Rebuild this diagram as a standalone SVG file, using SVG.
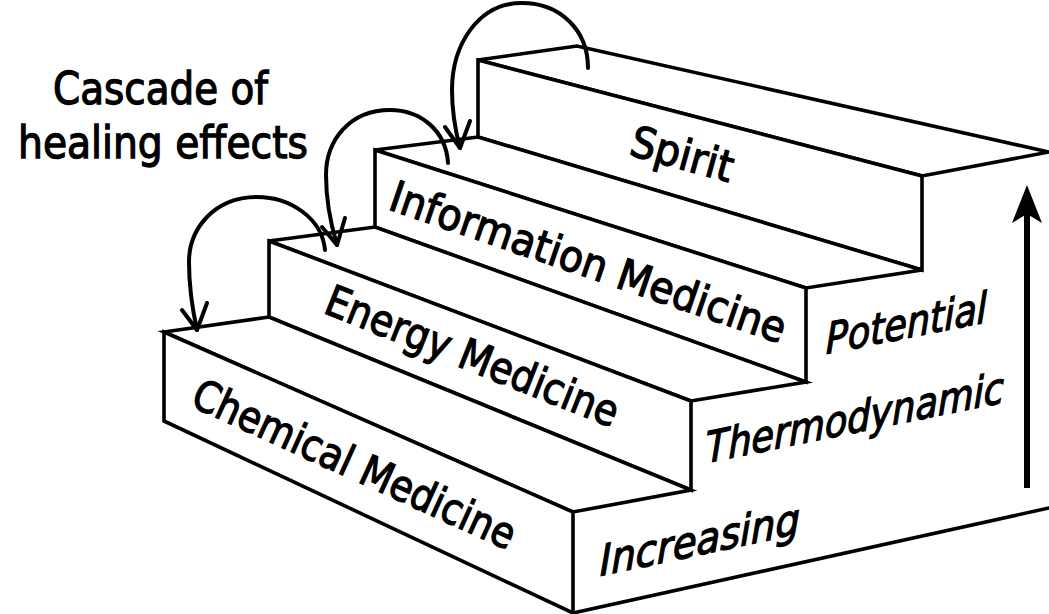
<svg xmlns="http://www.w3.org/2000/svg" width="1049" height="614" viewBox="0 0 1049 614">
  <style>
    .edge { fill: #fff; stroke: #000; stroke-width: 3.6; stroke-linejoin: miter; }
    .line { fill: none; stroke: #000; stroke-width: 3.6; stroke-linecap: round; }
    .arc { fill: none; stroke: #000; stroke-width: 4; stroke-linecap: round; }
    .head { fill: none; stroke: #000; stroke-width: 4; stroke-linecap: round; stroke-linejoin: round; }
    .lbl { font-family: "DejaVu Sans", "Liberation Sans", sans-serif; font-size: 43px; fill: #000; stroke: #000; stroke-width: 1.3; }
    .side { font-style: italic; }
    .mid { text-anchor: middle; }
  </style>
  <rect width="1049" height="614" fill="#fff"/>

  <g id="side-wall">
    <path class="line" d="M573,613 L1049,508"/>
  </g>

  <g id="step-spirit">
    <polygon class="edge" points="478,60 577,46 1049,152 922,176"/>
    <polygon class="edge" points="478,60 922,176 922,270 478,137"/>
    <text class="lbl mid" transform="translate(682,155) rotate(15.5)" x="0" y="14" textLength="105" lengthAdjust="spacingAndGlyphs">Spirit</text>
  </g>

  <g id="step-information">
    <polygon class="edge" points="375,150 478,137 922,270 806,288"/>
    <polygon class="edge" points="375,150 806,288 806,382 375,227"/>
    <text class="lbl mid" transform="translate(588,263) rotate(18.9)" x="0" y="14" textLength="416" lengthAdjust="spacingAndGlyphs">Information Medicine</text>
  </g>

  <g id="step-energy">
    <polygon class="edge" points="269,241 375,227 806,382 691,401"/>
    <polygon class="edge" points="269,241 691,401 691,490 269,317"/>
    <text class="lbl mid" transform="translate(472,357) rotate(21.7)" x="0" y="14" textLength="312" lengthAdjust="spacingAndGlyphs">Energy Medicine</text>
  </g>

  <g id="step-chemical">
    <polygon class="edge" points="164,332 269,317 691,490 573,512"/>
    <polygon class="edge" points="164,332 573,512 573,613 164,421"/>
    <text class="lbl mid" transform="translate(354,465) rotate(24.5)" x="0" y="14" textLength="350" lengthAdjust="spacingAndGlyphs">Chemical Medicine</text>
  </g>

  <g id="caption">
    <text class="lbl mid" x="160.5" y="104" textLength="215" lengthAdjust="spacingAndGlyphs" style="font-size:44px">Cascade of</text>
    <text class="lbl mid" x="163" y="158" textLength="290" lengthAdjust="spacingAndGlyphs" style="font-size:44px">healing effects</text>
  </g>

  <g id="side-labels">
    <text class="lbl side" transform="translate(826,354) skewY(-11.2)" x="0" y="0" textLength="161" lengthAdjust="spacingAndGlyphs">Potential</text>
    <text class="lbl side" transform="translate(706,463) skewY(-11.5)" x="0" y="0" textLength="298" lengthAdjust="spacingAndGlyphs">Thermodynamic</text>
    <text class="lbl side" transform="translate(600,576) skewY(-12)" x="0" y="0" textLength="200" lengthAdjust="spacingAndGlyphs">Increasing</text>
  </g>

  <g id="connectors">
    <path class="arc" d="M588,68 C588,30 560,3 522,3 C478,3 452,45 452,90 C452,115 456,133 460,148"/>
    <path class="head" d="M445,127 L460,148 L470,121"/>
    <path class="arc" d="M448,163 C446,130 420,110 390,110 C350,110 326,140 326,175 C326,200 331,225 337,245"/>
    <path class="head" d="M322,227 L337,245 L345,218"/>
    <path class="arc" d="M325,250 C322,218 290,197 257,197 C215,197 189,228 189,262 C189,290 193,312 197,330"/>
    <path class="head" d="M182,310 L197,330 L207,303"/>
    <line x1="1027" y1="488" x2="1027" y2="214" stroke="#000" stroke-width="6"/>
    <polygon points="1027,185 1042,223 1027,214 1012,223" fill="#000"/>
  </g>
</svg>
